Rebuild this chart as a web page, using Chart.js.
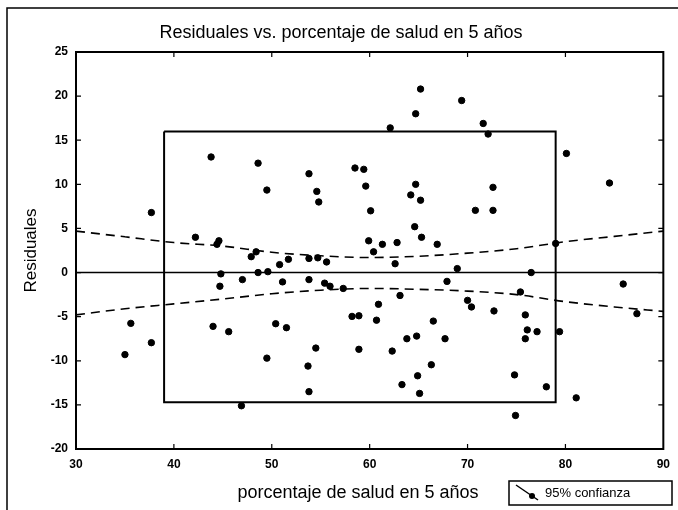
<!DOCTYPE html>
<html>
<head>
<meta charset="utf-8">
<title>Residuales vs. porcentaje de salud en 5 años</title>
<script src="https://cdn.jsdelivr.net/npm/chart.js@4.4.1/dist/chart.umd.min.js"></script>
<style>
  html, body { margin: 0; padding: 0; background: #fff; }
  #wrap { width: 678px; height: 510px; }
</style>
</head>
<body>
<div id="wrap"><canvas id="chart" width="678" height="510"></canvas></div>
<script>
// residual points
const residX = [37.7, 43.8, 48.6, 49.5, 53.8, 54.6, 54.8, 58.5, 59.4, 59.6,
  60.1, 59.9, 42.2, 44.6, 44.4, 65.2, 69.4, 64.7, 62.1, 71.6,
  72.1, 80.1, 84.5, 64.7, 64.2, 65.2, 72.6, 70.8, 72.6, 64.6,
  65.3, 66.9, 62.8, 61.3, 79.0, 47.9, 48.4, 44.8, 44.7, 47.0,
  48.6, 49.6, 50.8, 51.7, 51.1, 53.8, 54.7, 55.6, 53.8, 55.4,
  55.95, 57.3, 60.4, 60.9, 60.7, 58.2, 58.9, 58.9, 35.6, 37.7,
  35.0, 44.0, 45.6, 50.4, 51.5, 49.5, 54.5, 53.7, 53.8, 46.9,
  62.6, 68.95, 76.5, 67.9, 63.1, 70.0, 70.4, 72.7, 75.4, 75.9,
  76.1, 75.9, 77.1, 79.4, 85.9, 87.3, 66.5, 63.8, 64.8, 67.7,
  62.3, 66.3, 64.9, 63.3, 65.1, 74.8, 78.05, 81.1, 74.9];
const residY = [6.8, 13.1, 12.4, 9.35, 11.2, 9.2, 8.0, 11.85, 11.7, 9.8,
  7.0, 3.6, 4.0, 3.6, 3.2, 20.8, 19.5, 18.0, 16.4, 16.9,
  15.7, 13.5, 10.15, 10.0, 8.8, 8.2, 9.66, 7.05, 7.05, 5.2,
  4.0, 3.2, 3.4, 3.2, 3.3, 1.8, 2.35, -0.15, -1.55, -0.8,
  0.0, 0.1, 0.9, 1.5, -1.06, 1.6, 1.67, 1.2, -0.8, -1.2,
  -1.55, -1.8, 2.35, -3.6, -5.4, -4.97, -4.9, -8.7, -5.76, -7.95,
  -9.3, -6.1, -6.7, -5.8, -6.25, -9.7, -8.56, -10.6, -13.5, -15.1,
  1.0, 0.45, 0.0, -1.0, -2.6, -3.15, -3.9, -4.35, -2.2, -4.8,
  -6.5, -7.5, -6.7, -6.7, -1.3, -4.66, -5.5, -7.5, -7.2, -7.5,
  -8.9, -10.45, -11.7, -12.7, -13.7, -11.6, -12.95, -14.2, -16.2];

// 95% confidence band (dashed)
const bandX = [30, 35, 40, 45, 50, 55, 60, 65, 70, 75, 80, 85, 90];
const bandUpper = [4.7, 4.05, 3.4, 3.0, 2.3, 1.9, 1.7, 1.85, 2.2, 2.7, 3.5, 4.1, 4.7];
const bandLower = [-4.8, -4.1, -3.55, -3.0, -2.4, -2.0, -1.8, -1.9, -2.1, -2.5, -3.3, -3.9, -4.4];

// fitted line and the box drawn round the bulk of the points
const fitX = [30, 90];
const fitY = [0, 0];
const boxX = [39, 79, 79, 39, 39];
const boxY = [16, 16, -14.7, -14.7, 16];

const xTicks = [30, 40, 50, 60, 70, 80, 90];
const yTicks = [-20, -15, -10, -5, 0, 5, 10, 15, 20, 25];

const FONT = 'Arial, "Liberation Sans", Helvetica, sans-serif';

const toPoints = (xs, ys) => xs.map((x, i) => ({ x: x, y: ys[i] }));

// frame, inward ticks, titles, legend box and the scan border
const decorations = {
    id: 'decorations',
    afterDatasetsDraw(chart) {
        const ctx = chart.ctx;
        const { left, right, top, bottom } = chart.chartArea;
        const xs = chart.scales.x;
        const ys = chart.scales.y;

        ctx.save();
        ctx.strokeStyle = '#000';
        ctx.lineWidth = 2;
        ctx.strokeRect(left, top, right - left, bottom - top);

        ctx.lineWidth = 1.2;
        ctx.beginPath();
        xTicks.slice(1, -1).forEach((v) => {
            const px = xs.getPixelForValue(v);
            ctx.moveTo(px, bottom);
            ctx.lineTo(px, bottom - 5);
            ctx.moveTo(px, top);
            ctx.lineTo(px, top + 5);
        });
        yTicks.slice(1, -1).forEach((v) => {
            const py = ys.getPixelForValue(v);
            ctx.moveTo(left, py);
            ctx.lineTo(left + 5, py);
            ctx.moveTo(right, py);
            ctx.lineTo(right - 5, py);
        });
        ctx.stroke();

        // chart title and x axis title
        ctx.fillStyle = '#000';
        ctx.font = '18px ' + FONT;
        ctx.textAlign = 'center';
        ctx.textBaseline = 'middle';
        ctx.fillText('Residuales vs. porcentaje de salud en 5 años', 341, 33);
        ctx.fillText('porcentaje de salud en 5 años', 358, 493);

        // legend
        ctx.lineWidth = 1.5;
        ctx.strokeRect(509, 481, 163, 24);
        ctx.beginPath();
        ctx.moveTo(516, 485);
        ctx.lineTo(538, 500);
        ctx.stroke();
        ctx.beginPath();
        ctx.arc(532, 496, 3, 0, Math.PI * 2);
        ctx.fill();
        ctx.font = '13px ' + FONT;
        ctx.textAlign = 'left';
        ctx.fillText('95% confianza', 545, 493);

        // border of the scanned figure
        ctx.lineWidth = 1.5;
        ctx.beginPath();
        ctx.moveTo(7, 510);
        ctx.lineTo(7, 8);
        ctx.lineTo(678, 8);
        ctx.stroke();
        ctx.restore();
    }
};

const lineStyle = {
    type: 'line',
    borderColor: '#000',
    pointRadius: 0,
    fill: false,
    showLine: true
};

new Chart(document.getElementById('chart'), {
    type: 'scatter',
    data: {
        datasets: [
            {
                label: 'Residuales',
                data: toPoints(residX, residY),
                backgroundColor: '#000',
                borderColor: '#000',
                pointRadius: 3.2,
                pointHoverRadius: 3.2
            },
            { ...lineStyle, label: 'ajuste', data: toPoints(fitX, fitY), borderWidth: 1.6 },
            { ...lineStyle, label: '95% superior', data: toPoints(bandX, bandUpper), borderWidth: 1.6, borderDash: [9, 6], tension: 0.4, cubicInterpolationMode: 'monotone' },
            { ...lineStyle, label: '95% inferior', data: toPoints(bandX, bandLower), borderWidth: 1.6, borderDash: [9, 6], tension: 0.4, cubicInterpolationMode: 'monotone' },
            { ...lineStyle, label: 'caja', data: toPoints(boxX, boxY), borderWidth: 2, tension: 0 }
        ]
    },
    options: {
        responsive: false,
        animation: false,
        layout: { padding: { left: 0, right: 11, top: 52, bottom: 0 } },
        plugins: {
            legend: { display: false },
            tooltip: { enabled: false },
            title: { display: false }
        },
        scales: {
            x: {
                type: 'linear',
                min: 30,
                max: 90,
                grid: { display: false, drawTicks: false },
                border: { display: false },
                ticks: {
                    stepSize: 10,
                    padding: 8,
                    color: '#000',
                    font: { family: FONT, size: 12, weight: 'bold' }
                },
                afterFit(scale) { scale.height = 61; }
            },
            y: {
                type: 'linear',
                min: -20,
                max: 25,
                grid: { display: false, drawTicks: false },
                border: { display: false },
                ticks: {
                    stepSize: 5,
                    padding: 8,
                    color: '#000',
                    font: { family: FONT, size: 12, weight: 'bold' }
                },
                title: {
                    display: true,
                    text: 'Residuales',
                    color: '#000',
                    font: { family: FONT, size: 17 },
                    padding: { top: 21, bottom: 0 }
                },
                afterFit(scale) { scale.width = 76; }
            }
        }
    },
    plugins: [decorations]
});
</script>
</body>
</html>
